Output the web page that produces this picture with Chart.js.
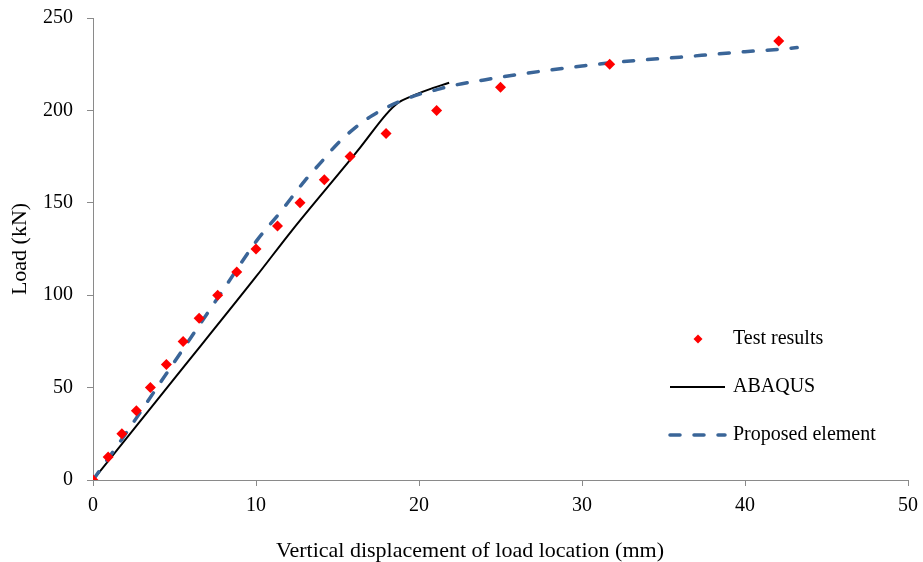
<!DOCTYPE html>
<html>
<head>
<meta charset="utf-8">
<script src="https://cdn.jsdelivr.net/npm/chart.js@4/dist/chart.umd.min.js"></script>
<style>
	html, body { margin: 0; padding: 0; background: #fff; }
</style>
</head>
<body>
<canvas id="chart" width="923" height="562"></canvas>
<script>
// test results (mm, kN)
const testX = [0, 0.93, 1.77, 2.66, 3.52, 4.5, 5.53, 6.51, 7.65, 8.82, 10.0, 11.32, 12.7, 14.19, 15.77, 17.98, 21.08, 25.0, 31.7, 42.07];
const testY = [0, 12.5, 25, 37.5, 50, 62.5, 75, 87.5, 100, 112.5, 125, 137.5, 150, 162.5, 175, 187.5, 200, 212.5, 225, 237.5];

// ABAQUS
const abaqusX = [0, 5, 10, 12.2, 16.4, 18.0, 18.7, 19.5, 20.5, 21.85];
const abaqusY = [0, 55, 110, 135, 180, 198, 204, 207.5, 211, 215];

// Proposed element
const proposedX = [0, 2, 4, 6, 8, 10, 11.5, 13, 14, 15, 16, 17, 18, 19, 20, 21, 22, 24, 26, 28, 30, 32, 34, 36, 38, 40, 42, 43.2];
const proposedY = [0, 25, 51, 77, 103, 129, 145, 162, 172, 182, 190, 196.5, 201.5, 205.5, 208.7, 211, 213.3, 216.5, 219.3, 221.8, 224, 226, 227.5, 228.8, 230.3, 231.8, 233, 234];

const xTicks = [0, 10, 20, 30, 40, 50];
const yTicks = [0, 50, 100, 150, 200, 250];

const xTitle = 'Vertical displacement of load location (mm)';
const yTitle = 'Load (kN)';

const toPoints = (xs, ys) => xs.map((x, i) => ({ x: x, y: ys[i] }));

const serif = "'Liberation Serif', 'Times New Roman', serif";
const axisColor = '#8a8a8a';

// legend drawn inside the plot, lower right
const legendPlugin = {
	id: 'plotLegend',
	afterDraw(chart) {
		const ctx = chart.ctx;
		const rows = [339, 387, 435];
		ctx.save();
		chart.data.datasets.forEach((ds, i) => {
			const y = rows[i];
			if (ds.showLine === false) {
				ctx.fillStyle = ds.backgroundColor;
				ctx.beginPath();
				ctx.moveTo(698 - 4.5, y);
				ctx.lineTo(698, y - 4.5);
				ctx.lineTo(698 + 4.5, y);
				ctx.lineTo(698, y + 4.5);
				ctx.closePath();
				ctx.fill();
			} else {
				ctx.strokeStyle = ds.borderColor;
				ctx.lineWidth = ds.borderWidth;
				ctx.lineCap = ds.borderCapStyle || 'butt';
				ctx.setLineDash(ds.borderDash || []);
				ctx.beginPath();
				ctx.moveTo(670, y);
				ctx.lineTo(725, y);
				ctx.stroke();
				ctx.setLineDash([]);
			}
			ctx.fillStyle = '#000';
			ctx.font = '20px ' + serif;
			ctx.textAlign = 'left';
			ctx.textBaseline = 'middle';
			ctx.fillText(ds.label, 733, y);
		});
		// x axis title
		ctx.font = '22px ' + serif;
		ctx.textAlign = 'center';
		ctx.textBaseline = 'alphabetic';
		ctx.fillText(xTitle, 470, 557);
		ctx.restore();
	}
};

new Chart(document.getElementById('chart'), {
	type: 'scatter',
	data: {
		datasets: [{
			label: 'Test results',
			data: toPoints(testX, testY),
			showLine: false,
			pointStyle: 'rectRot',
			pointRadius: 5.5,
			pointBorderWidth: 0,
			backgroundColor: '#ff0000',
			borderColor: '#ff0000',
			order: 0
		}, {
			label: 'ABAQUS',
			data: toPoints(abaqusX, abaqusY),
			showLine: true,
			borderColor: '#000000',
			borderWidth: 2,
			pointRadius: 0,
			cubicInterpolationMode: 'monotone',
			order: 2
		}, {
			label: 'Proposed element',
			data: toPoints(proposedX, proposedY),
			showLine: true,
			borderColor: '#3a6598',
			borderWidth: 3.5,
			borderDash: [10, 14],
			borderCapStyle: 'round',
			pointRadius: 0,
			cubicInterpolationMode: 'monotone',
			order: 1
		}]
	},
	options: {
		responsive: false,
		animation: false,
		layout: { padding: { top: 18, right: 15, bottom: 0, left: 0 } },
		plugins: {
			legend: { display: false },
			tooltip: { enabled: false }
		},
		scales: {
			x: {
				type: 'linear',
				min: 0,
				max: 50,
				afterBuildTicks: s => { s.ticks = xTicks.map(v => ({ value: v })); },
				afterFit: s => { s.height = 82; s.paddingLeft = 0; s.paddingRight = 0; },
				border: { color: axisColor, width: 1 },
				grid: { drawOnChartArea: false, drawTicks: true, tickLength: 6, color: axisColor },
				ticks: { color: '#000', padding: 8, font: { family: serif, size: 20 }, maxRotation: 0 }
			},
			y: {
				type: 'linear',
				min: 0,
				max: 250,
				afterBuildTicks: s => { s.ticks = yTicks.map(v => ({ value: v })); },
				afterFit: s => { s.width = 93; s.paddingTop = 0; s.paddingBottom = 0; },
				border: { color: axisColor, width: 1 },
				grid: { drawOnChartArea: false, drawTicks: true, tickLength: 6, color: axisColor },
				ticks: { color: '#000', padding: 14, font: { family: serif, size: 20 } },
				title: {
					display: true,
					text: yTitle,
					color: '#000',
					font: { family: serif, size: 22, lineHeight: 1.2 },
					padding: { top: 7, bottom: 0 }
				}
			}
		}
	},
	plugins: [legendPlugin]
});
</script>
</body>
</html>
